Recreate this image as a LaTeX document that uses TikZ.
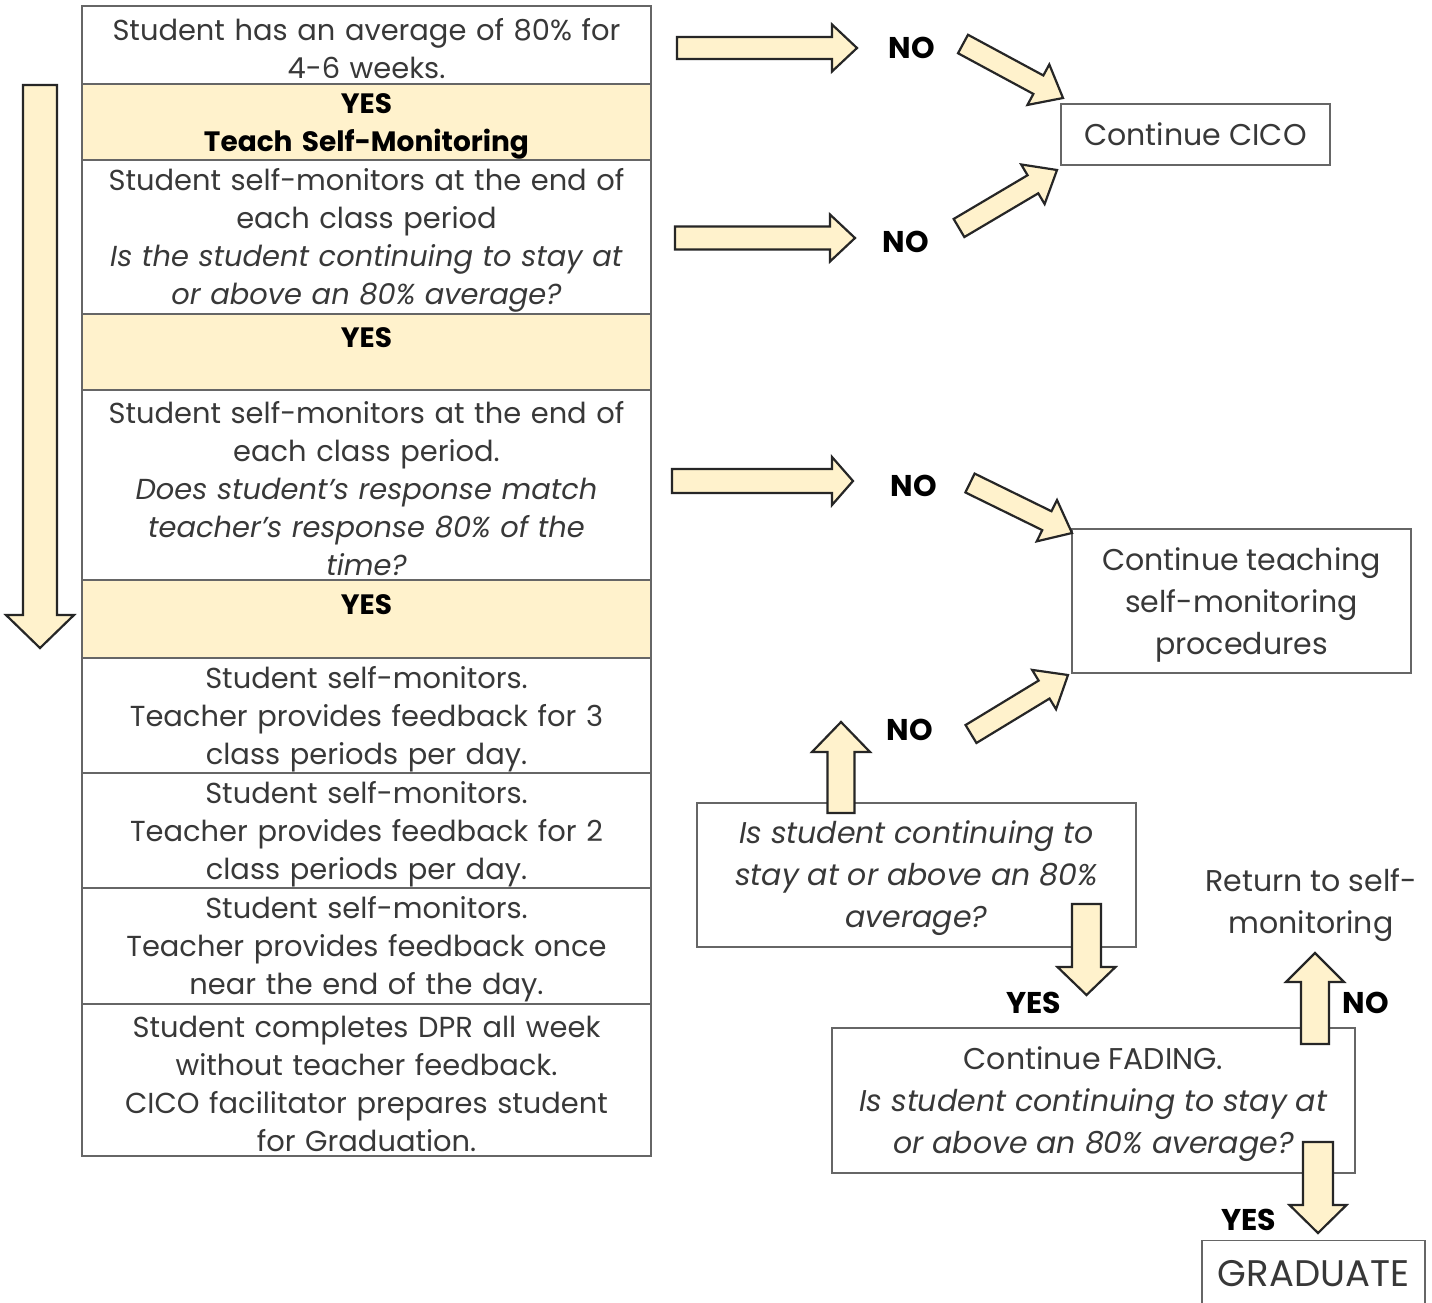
\documentclass[tikz,border=0pt]{standalone}
\usepackage{fontspec}
\setmainfont{Poppins}
\usetikzlibrary{calc}
\definecolor{pale}{HTML}{FFF2CC}
\definecolor{txt}{HTML}{383838}
\newcommand\bodyf{\fontsize{28.9}{38}\selectfont}
\newcommand\boldf{\fontsize{28}{38}\selectfont\bfseries}
\newcommand\boxf{\fontsize{30}{42}\selectfont}
\newcommand\labf{\fontsize{30}{32}\selectfont\bfseries}
\newcommand\topstrut{\rule{0pt}{30pt}}
\tikzset{
  barrow/.style={draw=black!85, fill=pale, line width=2.2pt, line join=miter},
  cell/.style={draw=black!60, line width=1.3pt, minimum width=569pt, text width=565pt,
    align=center, inner sep=0pt, text=txt, font=\bodyf, execute at begin node={\rule{0pt}{28.5pt}}},
  ycell/.style={cell, fill=pale, text=black, font=\boldf},
  box/.style={draw=black!60, line width=1.3pt, align=center, inner sep=0pt, text=txt, font=\boxf},
  lab/.style={font=\labf, text=black, inner sep=0pt},
}
\newcommand\fatarrow[5]{%
  \coordinate (fa-h) at ($(#2)!#5!(#1)$);
  \draw[barrow] ($(#1)!#3!90:(#2)$) -- ($(fa-h)!#3!90:(#2)$) -- ($(fa-h)!#4!90:(#2)$)
    -- (#2) -- ($(fa-h)!#4!-90:(#2)$) -- ($(fa-h)!#3!-90:(#2)$) -- ($(#1)!#3!-90:(#2)$) -- cycle;}
\begin{document}
\begin{tikzpicture}[x=1pt,y=-1pt]
\useasboundingbox (0,0) rectangle (1432,1302);
\clip (0,0) rectangle (1432,1302);
\fill[white] (0,0) rectangle (1432,1302);

% left column
\node[cell, minimum height=78pt] (r1) at (366.5,45) {Student has an average of 80\% for\\4-6 weeks.};
\node[ycell, minimum height=76pt] (r2) at (366.5,122) {YES\\Teach Self-Monitoring};
\node[cell, minimum height=154pt] (r3) at (366.5,237) {Student self-monitors at the end of\\each class period\\\textit{Is the student continuing to stay at}\\\textit{or above an 80\% average?}};
\node[ycell, minimum height=76pt] (r4) at (366.5,352) {YES\\\mbox{}};
\node[cell, minimum height=190pt] (r5) at (366.5,485) {Student self-monitors at the end of\\each class period.\\\textit{Does student's response match}\\\textit{teacher's response 80\% of the}\\\textit{time?}};
\node[ycell, minimum height=78pt] (r6) at (366.5,619) {YES\\\mbox{}};
\node[cell, minimum height=115pt] (r7) at (366.5,715.5) {Student self-monitors.\\Teacher provides feedback for 3\\class periods per day.};
\node[cell, minimum height=115pt] (r8) at (366.5,830.5) {Student self-monitors.\\Teacher provides feedback for 2\\class periods per day.};
\node[cell, minimum height=116pt] (r9) at (366.5,946) {Student self-monitors.\\Teacher provides feedback once\\near the end of the day.};
\node[cell, minimum height=152pt] (r10) at (366.5,1080) {Student completes DPR all week\\without teacher feedback.\\CICO facilitator prepares student\\for Graduation.};

% right boxes
\node[box, minimum width=269pt, minimum height=61pt] (cico) at (1195.5,134.5) {Continue CICO};
\node[box, minimum width=339pt, minimum height=144pt] (cteach) at (1241.5,601) {\topstrut Continue teaching\\self-monitoring\\procedures};
\node[box, minimum width=439pt, minimum height=144pt] (q1) at (916.5,875) {\topstrut\itshape Is student continuing to\\\itshape stay at or above an 80\%\\\itshape average?};
\node[box, minimum width=523pt, minimum height=145pt] (fading) at (1093.5,1100.5) {\topstrut Continue FADING.\\\textit{Is student continuing to stay at}\\\textit{or above an 80\% average?}};
\node[text=txt, font=\boxf, align=center, inner sep=0pt] (ret) at (1311,905) {Return to self-\\monitoring};
\node[box, minimum width=223pt, minimum height=66pt, anchor=north, font=\fontsize{37}{42}\selectfont] (grad) at (1313.5,1240) {GRADUATE};

% labels
\node[lab] (no1) at (912,48) {NO};
\node[lab] (no2) at (906,242) {NO};
\node[lab] (no3) at (914,486) {NO};
\node[lab] (no4) at (910,730) {NO};
\node[lab] (no5) at (1366,1003) {NO};
\node[lab] (yes1) at (1034,1003) {YES};
\node[lab] (yes2) at (1249,1220) {YES};

% arrow endpoints
\coordinate (bigS) at (40,85);   \coordinate (bigE) at (40,648);
\coordinate (h1s) at (677,48);   \coordinate (h1e) at (857,48);
\coordinate (h2s) at (675,238);  \coordinate (h2e) at (855,238);
\coordinate (h3s) at (672,481);  \coordinate (h3e) at (853,481);
\coordinate (d1s) at (963,44);   \coordinate (d1e) at (1063,98);
\coordinate (d2s) at (959,228);  \coordinate (d2e) at (1057,170);
\coordinate (d3s) at (970,483);  \coordinate (d3e) at (1072,533);
\coordinate (d4s) at (971,734);  \coordinate (d4e) at (1068,675);
\coordinate (u1s) at (841,813);  \coordinate (u1e) at (841,722);
\coordinate (v1s) at (1086.5,904); \coordinate (v1e) at (1086.5,995);
\coordinate (u2s) at (1315,1044); \coordinate (u2e) at (1315,953);
\coordinate (v2s) at (1318,1142); \coordinate (v2e) at (1318,1233);

\fatarrow{bigS}{bigE}{17pt}{34pt}{33pt}
\fatarrow{h1s}{h1e}{11pt}{23.5pt}{25pt}
\fatarrow{h2s}{h2e}{11.5pt}{23.5pt}{25pt}
\fatarrow{h3s}{h3e}{12pt}{24pt}{21pt}
\fatarrow{d1s}{d1e}{10.5pt}{23pt}{28pt}
\fatarrow{d2s}{d2e}{10.5pt}{23pt}{28pt}
\fatarrow{d3s}{d3e}{10.5pt}{23pt}{28pt}
\fatarrow{d4s}{d4e}{10.5pt}{23pt}{28pt}
\fatarrow{u1s}{u1e}{13.5pt}{29pt}{30pt}
\fatarrow{v1s}{v1e}{14.5pt}{29pt}{28pt}
\fatarrow{u2s}{u2e}{14pt}{29pt}{29pt}
\fatarrow{v2s}{v2e}{15pt}{28.5pt}{28pt}
\end{tikzpicture}
\end{document}
